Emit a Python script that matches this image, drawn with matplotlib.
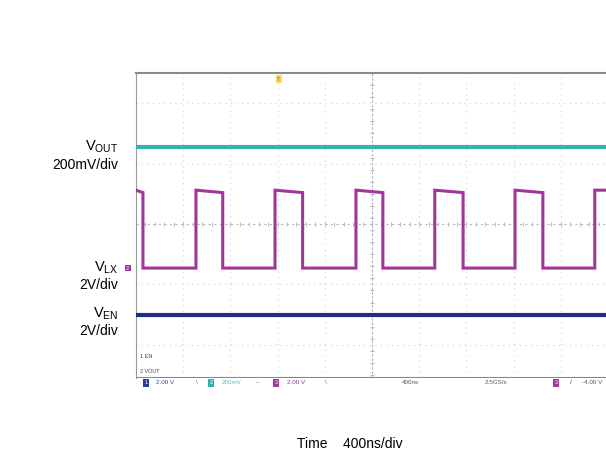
import matplotlib.pyplot as plt
import numpy as np

plt.rcParams['font.family'] = ['Liberation Sans', 'DejaVu Sans']
plt.rcParams['mathtext.fontset'] = 'custom'
plt.rcParams['mathtext.rm'] = 'Liberation Sans'

# screen readings, x in ns (400 ns/div), levels in screen divisions from centre
rise_ns = [508, 1178, 1864, 2532, 3212, 3888]
fall_ns = [59, 735, 1412, 2092, 2772, 3448]
lx_high_start = 0.56
lx_high_end = 0.52
lx_low = -0.73
vout_level = 1.27
ven_level = -1.50
t_end = 4000

# build the switching node trace from the edges
edges = sorted([(t, 'f') for t in fall_ns] + [(t, 'r') for t in rise_ns])
lx_t = [0]
lx_v = [lx_high_start]
for t, kind in edges:
    if kind == 'f':
        lx_t += [t, t]
        lx_v += [lx_high_end, lx_low]
    else:
        lx_t += [t, t]
        lx_v += [lx_low, lx_high_start]
lx_t.append(t_end)
lx_v.append(lx_high_start)

fig = plt.figure(figsize=(6.06, 4.59), dpi=100)
ax = fig.add_axes([136 / 606, 81 / 459, 472 / 606, 305 / 459])
ax.set_xlim(0, 4000)
ax.set_ylim(-2.55, 2.5)

# graticule
for gx in np.arange(400, 4000, 400):
    ax.axvline(gx, color='#d2d2d2', lw=0.8, ls=(0, (1, 4)), zorder=1)
for gy in [-2, -1, 1, 2]:
    ax.axhline(gy, color='#d2d2d2', lw=0.8, ls=(0, (1, 4)), zorder=1)
ax.axvline(2000, color='#b0b0b0', lw=0.8, ls=(0, (2, 2)), zorder=1)
ax.axhline(0, color='#b8b8b8', lw=0.8, ls=(0, (2, 3)), zorder=1)
ty = np.arange(-2.5, 2.5, 0.2)
ax.plot(np.full(len(ty), 2000), ty, ls='none', marker='_', ms=2.5, mew=0.8, color='#bbbbbb', zorder=1)
tx = np.arange(0, 4000, 80)
ax.plot(tx, np.zeros(len(tx)), ls='none', marker='|', ms=2.5, mew=0.8, color='#bbbbbb', zorder=1)

# traces
ax.plot([0, t_end], [vout_level, vout_level], color='#33b4aa', lw=3.0, zorder=3)
ax.plot(lx_t, lx_v, color='#a1359c', lw=2.2, zorder=3, solid_joinstyle='miter')
ax.plot([0, t_end], [ven_level, ven_level], color='#1f2d84', lw=3.0, zorder=3)

for s in ['right', 'bottom']:
    ax.spines[s].set_visible(False)
ax.spines['left'].set_color('#9a9a9a')
ax.spines['top'].set_color('#8a8a8a')
ax.spines['top'].set_linewidth(1.5)
ax.set_xticks([])
ax.set_yticks([])

# trigger marker and ground markers
ax.text(1212, 2.40, 'T', fontsize=4, color='#8a6d00', ha='center', va='center',
        bbox=dict(boxstyle='square,pad=0.2', fc='#f5d76e', ec='none'))
fig.text(126 / 606, 1 - 268 / 459, '2 ', fontsize=4, color='white', va='center',
         bbox=dict(boxstyle='square,pad=0.15', fc='#a1359c', ec='none'))
ax.text(30, -2.2, '1 EN', fontsize=4, color='#444444', va='center')
ax.text(30, -2.45, '2 VOUT', fontsize=4, color='#444444', va='center')

# status bar
ax.axhline(-2.55, color='#888888', lw=1.5, zorder=4)
bar_y = 1 - 383 / 459
items = [(146, '1', '#2b3a9a'), (211, '2', '#2fb3a8'), (276, '3', '#a1359c'), (556, '3', '#a1359c')]
for px, lab, col in items:
    fig.text(px / 606, bar_y, lab, fontsize=4, color='white', ha='center', va='center',
             bbox=dict(boxstyle='square,pad=0.3', fc=col, ec='none'))
for px, lab, col in [(165, '2.00 V', '#3a4a9a'), (197, '\\', '#666666'), (232, '200mV', '#52c0b8'),
                     (258, '~', '#666666'), (296, '2.00 V', '#8a3a86'), (326, '\\', '#666666'),
                     (410, '400ns', '#555555'), (496, '2.5GS/s', '#555555'), (571, '/', '#333333'),
                     (592, '-4.00 V', '#555555')]:
    fig.text(px / 606, bar_y, lab, fontsize=4.5, color=col, ha='center', va='center')

# channel labels
lab_x = 118 / 606
fig.text(lab_x, 1 - 147 / 459, r'$\mathrm{V_{OUT}}$', fontsize=10.5, ha='right', va='center')
fig.text(lab_x, 1 - 165 / 459, '200mV/div', fontsize=10, ha='right', va='center')
fig.text(lab_x, 1 - 268 / 459, r'$\mathrm{V_{LX}}$', fontsize=10.5, ha='right', va='center')
fig.text(lab_x, 1 - 285 / 459, '2V/div', fontsize=10, ha='right', va='center')
fig.text(lab_x, 1 - 314 / 459, r'$\mathrm{V_{EN}}$', fontsize=10.5, ha='right', va='center')
fig.text(lab_x, 1 - 331 / 459, '2V/div', fontsize=10, ha='right', va='center')
fig.text(350 / 606, 1 - 444 / 459, 'Time    400ns/div', fontsize=10, ha='center', va='center')

fig.savefig('out.png', dpi=100)
